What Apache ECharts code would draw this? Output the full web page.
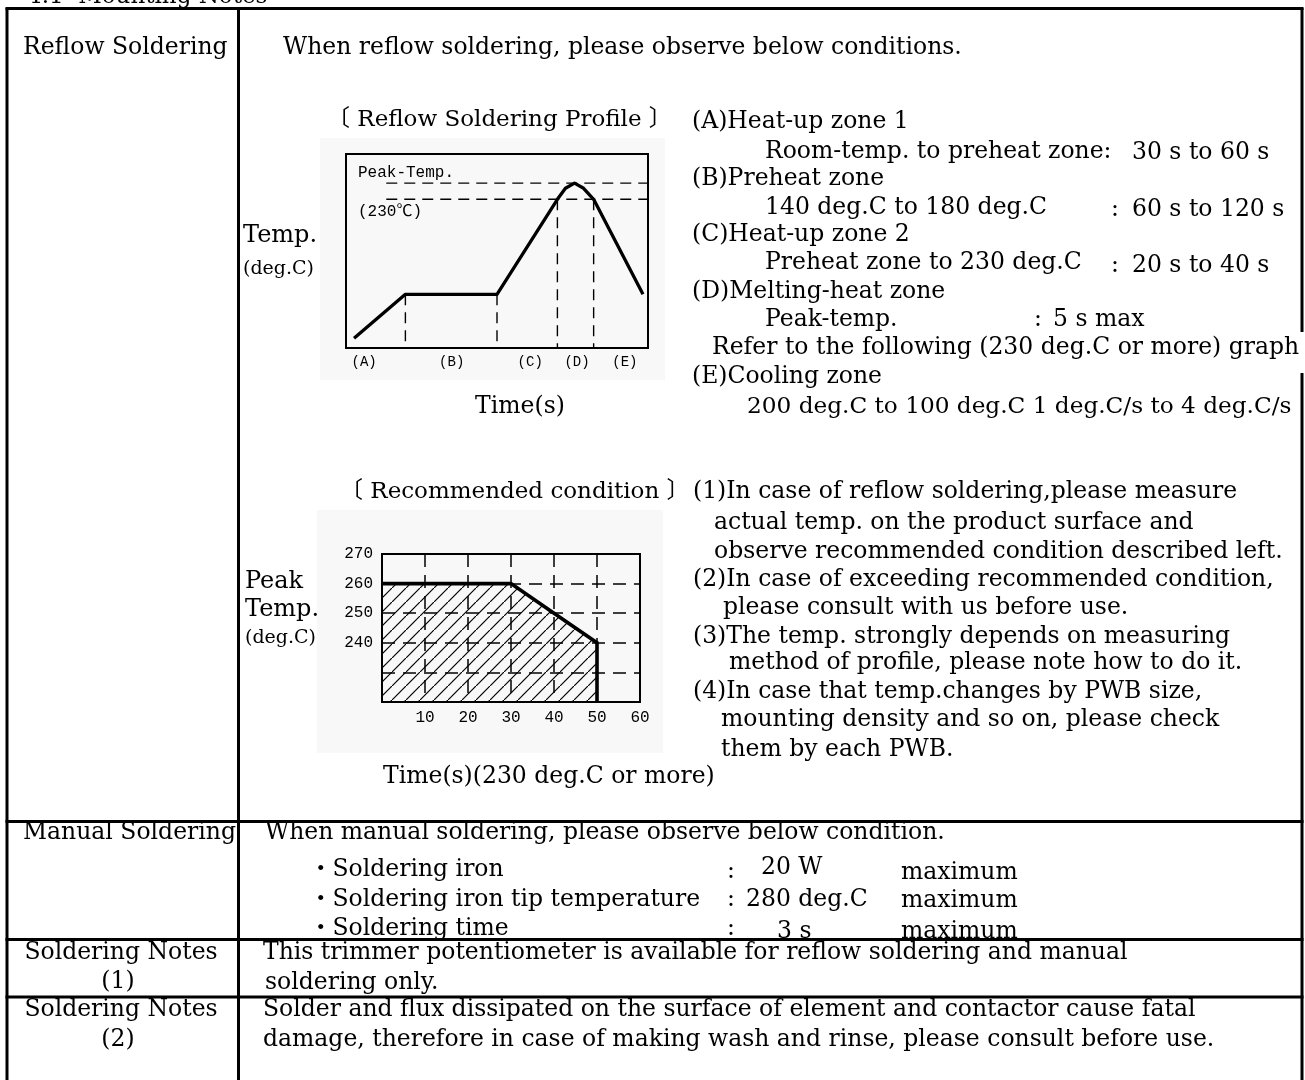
<!DOCTYPE html>
<html><head><meta charset="utf-8">
<script src="https://cdn.jsdelivr.net/npm/echarts@6/dist/echarts.min.js"></script>
<style>html,body{margin:0;padding:0;background:#fff}#c{width:1305px;height:1080px}</style>
</head><body><div id="c"></div><script>
// ---------- data ----------
// Reflow profile (schematic): time units vs temperature units
const profileTime = [8, 59, 150, 210, 218, 227, 236, 246, 295];
const profileTemp = [15, 83, 83, 230, 247, 255, 247, 230, 83];
const zoneLabels = ['(A)', '(B)', '(C)', '(D)', '(E)'];
const zoneCenters = [18, 105, 183, 229.5, 277];
const zoneBoundTime = [59, 150, 210, 246];
const zoneBoundTemp = [83, 83, 230, 230];
const peakLevel = 255;
const meltLevel = 230;
const guideStart = 40;
const profileMaxTime = 300;
// Recommended condition
const recTime = [0, 30, 40, 50, 50];
const recPeakTemp = [260, 260, 250, 240, 220];
const recXMin = 0, recXMax = 60, recXStep = 10;
const recYMin = 220, recYMax = 270, recYStep = 10;
const recYLabelMin = 240;

// ---------- texts ----------
const SERIF = '"DejaVu Serif", "Noto Sans CJK JP", serif';
const MONO = '"Liberation Mono", "DejaVu Sans Mono", "Noto Sans CJK JP", monospace';
const FS = 23.5;
function T(text, x, y, size, opt) {
  opt = opt || {};
  return { type: 'text', z: 10, style: { text: text, x: x, y: y,
    font: (size || FS) + 'px ' + (opt.family || SERIF), fill: '#000',
    align: opt.align || 'left', verticalAlign: 'middle' } };
}
function L(x1, y1, x2, y2, w) {
  return { type: 'line', z: 10, shape: { x1: x1, y1: y1, x2: x2, y2: y2 },
    style: { stroke: '#000', lineWidth: w || 3 } };
}

const g = [];
// faint scan backgrounds
g.push({ type: 'rect', z: -5, shape: { x: 320, y: 138, width: 345, height: 242 }, style: { fill: '#f8f8f8' } });
g.push({ type: 'rect', z: -5, shape: { x: 317, y: 510, width: 346, height: 243 }, style: { fill: '#f8f8f8' } });

// table lines
g.push(L(5.5, 8.5, 1303.5, 8.5));
g.push(L(7, 8, 7, 1080));
g.push(L(238.5, 8, 238.5, 1080));
g.push(L(1302, 8, 1302, 332));
g.push(L(1302, 373, 1302, 1080));
g.push(L(5.5, 821.5, 1303.5, 821.5));
g.push(L(5.5, 939.5, 1303.5, 939.5));
g.push(L(5.5, 997, 1303.5, 997));

// title
g.push(T('4.1  Mounting Notes', 27, -3, 23));
// Reflow soldering
g.push(T('Reflow Soldering', 23, 48));
g.push(T('When reflow soldering, please observe below conditions.', 283, 48));
g.push(T('〔 Reflow Soldering Profile 〕', 327, 120, 23));
g.push(T('Temp.', 243, 236, 24));
g.push(T('(deg.C)', 243, 269, 19));
g.push(T('Time(s)', 520, 407, FS, { align: 'center' }));
g.push(T('Peak-Temp.', 358, 173, 16, { family: MONO }));
g.push(T('(230℃)', 358, 212, 16, { family: MONO }));

const rx1 = 692, rx2 = 765, rc = 1111, rv = 1132;
g.push(T('(A)Heat-up zone 1', rx1, 122));
g.push(T('Room-temp. to preheat zone:', rx2, 152));
g.push(T('30 s to 60 s', rv, 153));
g.push(T('(B)Preheat zone', rx1, 179));
g.push(T('140 deg.C to 180 deg.C', rx2, 208));
g.push(T(':', rc, 210));
g.push(T('60 s to 120 s', rv, 210));
g.push(T('(C)Heat-up zone 2', rx1, 235));
g.push(T('Preheat zone to 230 deg.C', rx2, 263));
g.push(T(':', rc, 266));
g.push(T('20 s to 40 s', rv, 266));
g.push(T('(D)Melting-heat zone', rx1, 292));
g.push(T('Peak-temp.', rx2, 320));
g.push(T(':', 1034, 320));
g.push(T('5 s max', 1053, 320));
g.push(T('Refer to the following (230 deg.C or more) graph', 712, 348));
g.push(T('(E)Cooling zone', rx1, 377));
g.push(T('200 deg.C to 100 deg.C 1 deg.C/s to 4 deg.C/s', 747, 407, 23.2));

// Recommended condition
g.push(T('〔 Recommended condition 〕', 340, 492, 23));
g.push(T('Peak', 245, 582, 24));
g.push(T('Temp.', 245, 610, 24));
g.push(T('(deg.C)', 245, 638, 19));
g.push(T('Time(s)(230 deg.C or more)', 383, 777));
g.push(T('(1)In case of reflow soldering,please measure', 693, 492));
g.push(T('actual temp. on the product surface and', 714, 523));
g.push(T('observe recommended condition described left.', 714, 552));
g.push(T('(2)In case of exceeding recommended condition,', 693, 580));
g.push(T('please consult with us before use.', 723, 608));
g.push(T('(3)The temp. strongly depends on measuring', 693, 637));
g.push(T('method of profile, please note how to do it.', 729, 663));
g.push(T('(4)In case that temp.changes by PWB size,', 693, 692));
g.push(T('mounting density and so on, please check', 721, 720));
g.push(T('them by each PWB.', 721, 750));

// Manual soldering
g.push(T('Manual Soldering', 23, 833));
g.push(T('When manual soldering, please observe below condition.', 265, 833));
g.push(T('・Soldering iron', 309, 870));
g.push(T(':', 727, 872));
g.push(T('20 W', 761, 868));
g.push(T('maximum', 901, 873));
g.push(T('・Soldering iron tip temperature', 309, 900));
g.push(T(':', 727, 900));
g.push(T('280 deg.C', 746, 900));
g.push(T('maximum', 901, 901));
g.push(T('・Soldering time', 309, 929));
g.push(T(':', 727, 929));
g.push(T('3 s', 777, 932));
g.push(T('maximum', 901, 932));

// Notes
g.push(T('Soldering Notes', 121, 953, FS, { align: 'center' }));
g.push(T('(1)', 118, 982, FS, { align: 'center' }));
g.push(T('This trimmer potentiometer is available for reflow soldering and manual', 263, 953));
g.push(T('soldering only.', 265, 983));
g.push(T('Soldering Notes', 121, 1010, FS, { align: 'center' }));
g.push(T('(2)', 118, 1040, FS, { align: 'center' }));
g.push(T('Solder and flux dissipated on the surface of element and contactor cause fatal', 263, 1010));
g.push(T('damage, therefore in case of making wash and rinse, please consult before use.', 263, 1040));

// ---------- hatch pattern ----------
const pc = document.createElement('canvas');
pc.width = 14; pc.height = 14;
const ctx = pc.getContext('2d');
ctx.strokeStyle = '#000'; ctx.lineWidth = 1.2;
ctx.beginPath();
ctx.moveTo(-2, 16); ctx.lineTo(16, -2);
ctx.stroke();

// ---------- series ----------
const series = [];
series.push({ type: 'line', xAxisIndex: 0, yAxisIndex: 0, symbol: 'none', z: 5,
  data: profileTime.map((t, i) => [t, profileTemp[i]]),
  lineStyle: { color: '#000', width: 3.3, join: 'round' } });
const dash1 = { color: '#000', width: 1.4, type: [11, 7] };
[peakLevel, meltLevel].forEach(v => series.push({ type: 'line', xAxisIndex: 0, yAxisIndex: 0, symbol: 'none', z: 4,
  data: [[guideStart, v], [profileMaxTime, v]], lineStyle: dash1 }));
zoneBoundTime.forEach((t, i) => series.push({ type: 'line', xAxisIndex: 0, yAxisIndex: 0, symbol: 'none', z: 4,
  data: [[t, zoneBoundTemp[i]], [t, 0]], lineStyle: dash1 }));
series.push({ type: 'line', xAxisIndex: 1, yAxisIndex: 1, symbol: 'none', z: 5,
  data: recTime.map((t, i) => [t, recPeakTemp[i]]),
  lineStyle: { color: '#000', width: 3.6, join: 'miter' },
  areaStyle: { color: { image: pc, repeat: 'repeat' }, opacity: 1, origin: 'start' } });

const chart = echarts.init(document.getElementById('c'), null, { renderer: 'canvas' });
chart.setOption({
  backgroundColor: '#fff',
  animation: false,
  grid: [
    { left: 346, top: 154, width: 302, height: 194, show: true, borderColor: '#000', borderWidth: 2, backgroundColor: 'transparent', containLabel: false },
    { left: 382, top: 554, width: 258, height: 148, show: true, borderColor: '#000', borderWidth: 2, backgroundColor: 'transparent', containLabel: false }
  ],
  xAxis: [
    { type: 'value', gridIndex: 0, min: 0, max: profileMaxTime,
      axisLine: { show: false }, axisTick: { show: false }, splitLine: { show: false },
      axisLabel: { customValues: zoneCenters, margin: 7, color: '#000', fontSize: 14, fontFamily: MONO,
        formatter: v => { const i = zoneCenters.indexOf(v); return i >= 0 ? zoneLabels[i] : ''; } } },
    { type: 'value', gridIndex: 1, min: recXMin, max: recXMax, interval: recXStep,
      axisLine: { show: false }, axisTick: { show: false },
      splitLine: { show: true, lineStyle: { color: '#000', width: 1.5, type: [13, 8] } },
      axisLabel: { margin: 8, color: '#000', fontSize: 16, fontFamily: MONO, showMinLabel: true,
        formatter: v => v === recXMin ? '' : String(v) } }
  ],
  yAxis: [
    { type: 'value', gridIndex: 0, min: 0, max: 300, show: false },
    { type: 'value', gridIndex: 1, min: recYMin, max: recYMax, interval: recYStep,
      axisLine: { show: false }, axisTick: { show: false },
      splitLine: { show: true, lineStyle: { color: '#000', width: 1.5, type: [13, 8] } },
      axisLabel: { margin: 9, color: '#000', fontSize: 16, fontFamily: MONO,
        formatter: v => v >= recYLabelMin ? String(v) : '' } }
  ],
  graphic: g,
  series: series
});
</script></body></html>
